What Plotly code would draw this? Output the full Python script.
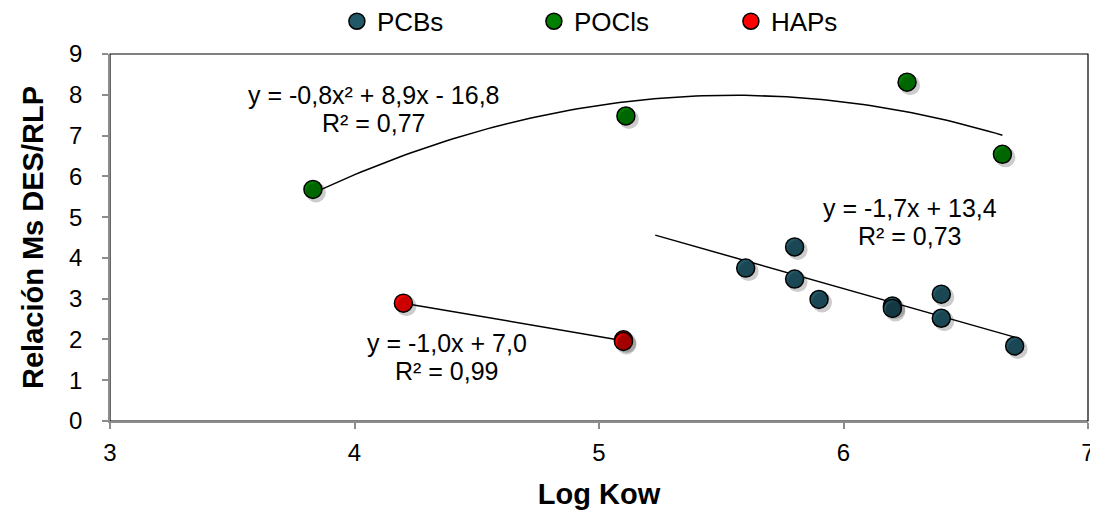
import numpy as np
import plotly.graph_objects as go

# ---- data ----
pcb_x = [5.6, 5.8, 5.8, 5.9, 6.2, 6.2, 6.4, 6.4, 6.7]
pcb_y = [3.75, 4.27, 3.48, 2.98, 2.82, 2.76, 3.11, 2.52, 1.84]
pocl_x = [3.83, 5.11, 6.26, 6.65]
pocl_y = [5.68, 7.48, 8.31, 6.54]
hap_x = [4.2, 5.1, 5.1]
hap_y = [2.89, 1.99, 1.95]

pcb_fit_range = [5.23, 6.7]
pocl_fit_range = [3.83, 6.65]
hap_fit_range = [4.2, 5.1]

series_names = ["PCBs", "POCls", "HAPs"]
eq_texts = ["y = -0,8x² + 8,9x - 16,8", "y = -1,7x + 13,4", "y = -1,0x + 7,0"]
r2_texts = ["R² = 0,77", "R² = 0,73", "R² = 0,99"]

x_ticks = [3, 4, 5, 6, 7]
y_ticks = [0, 1, 2, 3, 4, 5, 6, 7, 8, 9]

colors = ["#215968", "#008000", "#FF0000"]
FONT = "Liberation Sans, Arial, sans-serif"

X_RANGE = [3, 7]
Y_RANGE = [0, 9]
# page body has an 8px margin, so the figure is drawn slightly smaller
FIG_W, FIG_H = 1090, 502
M_L, M_R, M_T, M_B = 102, 10, 46, 89
PLOT_W = FIG_W - M_L - M_R
PLOT_H = FIG_H - M_T - M_B
SHADOW_PX = 3

# label anchor positions (data coords): (x, y of equation line, y of R² line)
label_pos = [(4.08, 8.00, 7.31), (6.27, 5.23, 4.54), (4.38, 1.92, 1.23)]

fig = go.Figure()

def fit_line(xs, ys, deg, rng):
    c = np.polyfit(xs, ys, deg)
    xx = np.linspace(rng[0], rng[1], 100)
    return xx, np.polyval(c, xx)

# shadows (drawn on an overlay axis shifted by a few pixels)
for xs, ys in [(pcb_x, pcb_y), (pocl_x, pocl_y), (hap_x, hap_y)]:
    fig.add_trace(go.Scatter(x=xs, y=ys, mode="markers", xaxis="x2", yaxis="y2",
                             marker=dict(color="rgba(0,0,0,0.2)", size=20, line=dict(width=0)),
                             showlegend=False, hoverinfo="skip"))

for xs, ys, deg, rng in [(pcb_x, pcb_y, 1, pcb_fit_range),
                         (pocl_x, pocl_y, 2, pocl_fit_range),
                         (hap_x, hap_y, 1, hap_fit_range)]:
    xx, yy = fit_line(xs, ys, deg, rng)
    fig.add_trace(go.Scatter(x=xx, y=yy, mode="lines",
                             line=dict(color="black", width=1.5),
                             showlegend=False, hoverinfo="skip"))

for name, xs, ys, col in zip(series_names, [pcb_x, pocl_x, hap_x],
                             [pcb_y, pocl_y, hap_y], colors):
    fig.add_trace(go.Scatter(x=xs, y=ys, mode="markers", name=name,
                             marker=dict(color=col, size=18,
                                         line=dict(color="black", width=1.5))))

ann_font = dict(family=FONT, size=25, color="black")
for eq, r2, (ax, ay1, ay2) in zip(eq_texts, r2_texts, label_pos):
    for txt, ay in [(eq, ay1), (r2, ay2)]:
        fig.add_annotation(x=ax, y=ay, text=txt, showarrow=False, font=ann_font,
                           xref="x", yref="y", borderpad=0)

fig.add_shape(type="rect", xref="paper", yref="paper", x0=0, y0=0, x1=1, y1=1,
              line=dict(color="black", width=1.2), layer="below")

dx = SHADOW_PX * (X_RANGE[1] - X_RANGE[0]) / PLOT_W
dy = SHADOW_PX * (Y_RANGE[1] - Y_RANGE[0]) / PLOT_H

fig.update_layout(
    width=FIG_W, height=FIG_H,
    margin=dict(l=M_L, r=M_R, t=M_T, b=M_B, autoexpand=False),
    paper_bgcolor="white", plot_bgcolor="white",
    font=dict(family=FONT, size=24, color="black"),
    showlegend=True,
    legend=dict(orientation="h", x=0.232, xanchor="left", y=1.025, yanchor="bottom",
                font=dict(size=26), entrywidth=152, itemwidth=30,
                bgcolor="rgba(0,0,0,0)", tracegroupgap=0, borderwidth=0),
    xaxis=dict(range=X_RANGE, tickvals=x_ticks, showgrid=False, zeroline=False,
               showline=True, linecolor="#8c8c8c", linewidth=1.5,
               ticks="outside", tickcolor="#8c8c8c", ticklen=6, tickwidth=1.5,
               tickfont=dict(size=24), ticklabelstandoff=3, automargin=False,
               ticklabeloverflow="allow",
               title=dict(text="<b>Log Kow</b>", font=dict(size=29), standoff=19)),
    yaxis=dict(range=Y_RANGE, tickvals=y_ticks, showgrid=False, zeroline=False,
               showline=True, linecolor="#8c8c8c", linewidth=1.5,
               ticks="outside", tickcolor="#8c8c8c", ticklen=6, tickwidth=1.5,
               tickfont=dict(size=24), ticklabelstandoff=15, automargin=False,
               title=dict(text="<b>Relación Ms DES/RLP</b>", font=dict(size=29), standoff=17)),
    xaxis2=dict(overlaying="x", range=[X_RANGE[0] - dx, X_RANGE[1] - dx], visible=False),
    yaxis2=dict(overlaying="y", range=[Y_RANGE[0] + dy, Y_RANGE[1] + dy], visible=False),
)

fig.write_html("out.html")
